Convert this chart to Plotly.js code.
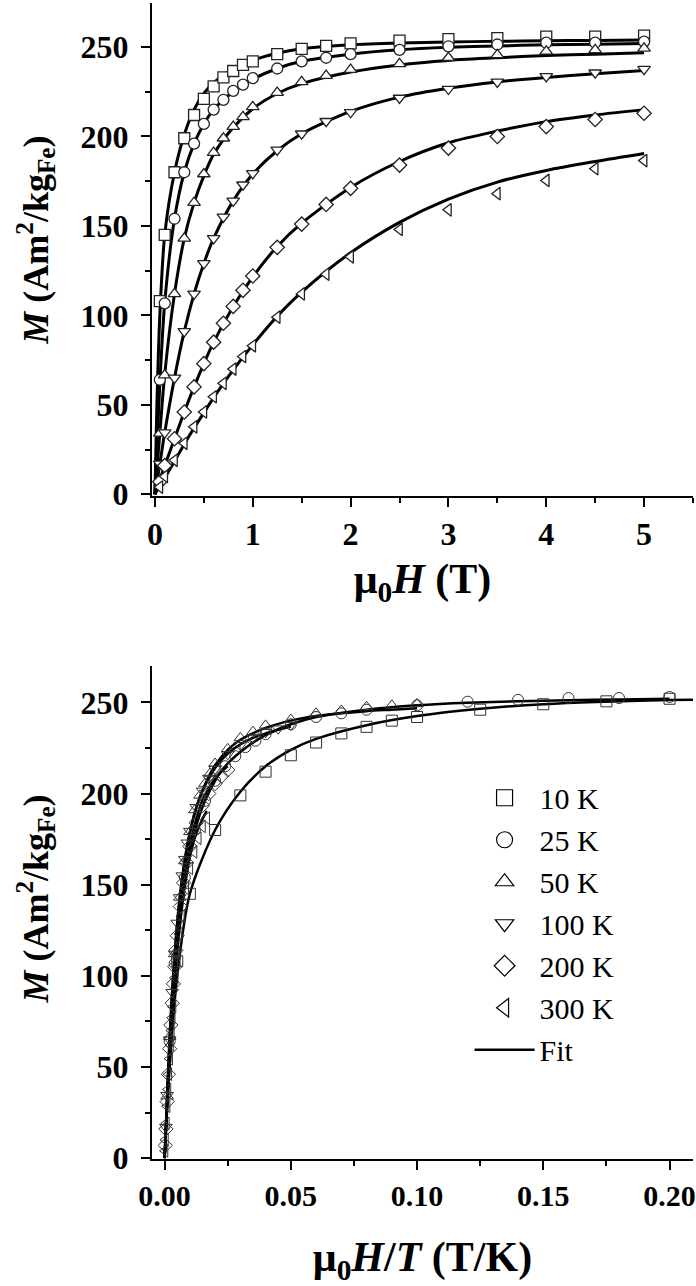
<!DOCTYPE html>
<html>
<head>
<meta charset="utf-8">
<script src="https://cdn.plot.ly/plotly-3.0.1.min.js"></script>
<style>
  body { margin: 0; background: #fff; }
  #plotArea { width: 696px; height: 1286px; }
</style>
</head>
<body>
<div id="plotArea"></div>
<script>
// temperatures (K) and labels
var temps = [10, 25, 50, 100, 200, 300];
var labels = ["10 K", "25 K", "50 K", "100 K", "200 K", "300 K"];

// applied field points (T)
var field = [0.05, 0.1, 0.2, 0.3, 0.4, 0.5, 0.6, 0.7, 0.8, 0.9, 1.0, 1.25, 1.5, 1.75, 2.0, 2.5, 3, 3.5, 4, 4.5, 5];

// measured M (Am2/kgFe), one array per temperature
var m10K  = [108, 145, 180, 199, 212, 221, 228, 233, 236.6, 240, 242, 246, 249, 250.6, 252, 253.6, 254.4, 255, 255.8, 255.8, 256.4];
var m25K  = [64, 106.7, 154, 180, 196, 207, 215, 220.5, 225.5, 229, 232.6, 238, 242, 244, 246, 248.4, 250.4, 251.4, 252.4, 252.4, 253];
var m50K  = [34, 66.6, 112, 143, 163, 179, 191, 199, 205.5, 211, 216.5, 224.5, 230.5, 234, 237.4, 240.6, 244, 245.6, 247.6, 248.4, 249.2];
var m100K = [17, 34.5, 65, 91, 112, 129, 143, 155, 164, 173, 179.4, 192.5, 201.5, 208.5, 213.5, 221.5, 226.5, 230.5, 233.6, 235.6, 237.6];
var m200K = [7, 16, 31, 46, 60, 73, 85, 95.6, 105, 114, 122, 138, 151, 162, 171, 184, 193.5, 200, 205.5, 209.5, 213];
var m300K = [4, 10, 19, 28.5, 37.7, 46, 54.5, 62, 70, 77, 83, 99, 112, 123, 132.7, 148, 159, 168, 175.4, 182, 186.5];

// fit curves
var fitField = [0, 0.02, 0.05, 0.1, 0.2, 0.3, 0.4, 0.5, 0.6, 0.8, 1, 1.25, 1.5, 2, 2.5, 3, 3.5, 4, 4.5, 5];
var fit10K  = [0, 50, 100, 145, 180, 201, 215, 224, 230, 237.5, 242.5, 246.5, 249, 251.3, 252.3, 252.8, 253.2, 253.5, 253.7, 253.9];
var fit25K  = [0, 25, 62, 107, 154, 180, 196, 207, 215, 225, 232, 238, 242, 246, 248.4, 249.8, 250.6, 251.2, 251.6, 252];
var fit50K  = [0, 14, 34, 67, 112, 143, 163, 178, 190, 205, 215.5, 224, 229.5, 236, 240, 242.5, 244, 245.2, 246, 246.8];
var fit100K = [0, 7, 17, 34.5, 65, 91, 112, 129, 143, 164, 179, 192, 201.5, 214, 222, 227, 230.5, 233, 235, 236.8];
var fit200K = [0, 3, 8, 16, 31, 46, 60, 73, 85, 105, 121.5, 138.5, 151.5, 171.5, 186, 196.5, 203, 208.3, 212, 215];
var fit300K = [0, 2, 4.5, 9, 18.5, 28, 37, 45.5, 54, 69.5, 83.5, 99.5, 113, 135, 152, 165, 174.5, 181, 186, 190.5];

var measured = [m10K, m25K, m50K, m100K, m200K, m300K];
var fits = [fit10K, fit25K, fit50K, fit100K, fit200K, fit300K];
var symbols = ["square", "circle", "triangle-up", "triangle-down", "diamond", "triangle-left"];

var serif = "Liberation Serif, Times New Roman, serif";
var traces = [];

// top panel: M vs field
fits.forEach(function(f) {
    traces.push({
        x: fitField, y: f, xaxis: "x", yaxis: "y",
        mode: "lines", line: {color: "#000", width: 3, shape: "spline", smoothing: 0.8},
        showlegend: false, hoverinfo: "skip"
    });
});
measured.forEach(function(m, i) {
    traces.push({
        x: field, y: m, xaxis: "x", yaxis: "y",
        mode: "markers",
        marker: {symbol: symbols[i], size: 11, color: "#fff", line: {color: "#222", width: 1.3}},
        showlegend: false
    });
});

// bottom panel: M vs field / T
fits.forEach(function(f, i) {
    traces.push({
        x: fitField.map(h => h / temps[i]), y: f, xaxis: "x2", yaxis: "y2",
        mode: "lines", line: {color: "#000", width: 2.5, shape: "spline", smoothing: 0.8},
        showlegend: false, hoverinfo: "skip"
    });
});
measured.forEach(function(m, i) {
    traces.push({
        x: field.map(h => h / temps[i]), y: m, xaxis: "x2", yaxis: "y2",
        mode: "markers", showlegend: false,
        marker: {symbol: symbols[i] + "-open", size: 11, color: "#333", line: {width: 1}}
    });
});

// legend entries (bigger symbols than the data marks, as in the figure)
labels.forEach(function(lab, i) {
    traces.push({
        x: [null], y: [null], xaxis: "x2", yaxis: "y2", mode: "markers", name: lab,
        legendrank: i + 1, showlegend: true,
        marker: {symbol: symbols[i] + "-open", size: 16, color: "#000", line: {width: 1.2}}
    });
});
traces.push({
    x: [null], y: [null], xaxis: "x2", yaxis: "y2", mode: "lines", name: "Fit",
    legendrank: 7, showlegend: true,
    line: {color: "#000", width: 2.5}
});

var tickFont = {family: serif, size: 32, color: "#000", weight: "bold"};
var titleFont = {family: serif, size: 36, color: "#000", weight: "bold"};
var xTitleFont = {family: serif, size: 42, color: "#000", weight: "bold"};

function mainAxis(extra) {
    var a = {
        showline: true, linecolor: "#000", linewidth: 2, mirror: false,
        ticks: "outside", ticklen: 9, tickwidth: 2, tickcolor: "#000",
        showgrid: false, zeroline: false, tickfont: tickFont, fixedrange: true,
        ticklabeloverflow: "allow"
    };
    return Object.assign(a, extra);
}
function mirrorAxis(extra) {
    var a = {
        showline: true, linecolor: "#000", linewidth: 2,
        ticks: "inside", ticklen: 7, tickwidth: 2, tickcolor: "#000",
        showticklabels: false, showgrid: false, zeroline: false, fixedrange: true
    };
    return Object.assign(a, extra);
}

var topX = [-0.03, 5.5], topY = [-1, 274.6];
var botX = [-0.005, 0.2093], botY = [-0.5, 270];
var yTitle = "<i>M</i> (Am<sup>2</sup>/kg<sub>Fe</sub>)";

var layout = {
    width: 696, height: 1286,
    margin: {l: 152, r: 3, t: 3, b: 127},
    paper_bgcolor: "#fff", plot_bgcolor: "#fff",
    showlegend: true,
    legend: {
        x: 0.587, y: 0.335, xanchor: "left", yanchor: "top",
        font: {family: serif, size: 30, color: "#000"},
        bgcolor: "rgba(0,0,0,0)", itemwidth: 60, tracegroupgap: 0
    },
    annotations: [
        {text: yTitle, font: titleFont, textangle: -90, showarrow: false,
         xref: "paper", yref: "paper", x: -0.215, y: 0.795, xanchor: "center", yanchor: "middle"},
        {text: yTitle, font: titleFont, textangle: -90, showarrow: false,
         xref: "paper", yref: "paper", x: -0.215, y: 0.225, xanchor: "center", yanchor: "middle"}
    ],
    xaxis: mainAxis({
        domain: [0, 1], anchor: "y", range: topX, tick0: 0, dtick: 1,
        minor: {dtick: 0.5, ticklen: 5, tickwidth: 2, ticks: "outside", tickcolor: "#000"},
        title: {text: "μ<sub>0</sub><i>H</i> (T)", font: xTitleFont, standoff: 12}
    }),
    yaxis: mainAxis({
        domain: [0.5735, 1], anchor: "x", range: topY, tick0: 0, dtick: 50, ticklabelstandoff: 6,
        minor: {dtick: 25, ticklen: 5, tickwidth: 2, ticks: "outside", tickcolor: "#000"}
    }),
    xaxis3: mirrorAxis({overlaying: "x", anchor: "y", side: "top", range: topX, tick0: 0, dtick: 0.5}),
    yaxis3: mirrorAxis({overlaying: "y", anchor: "x", side: "right", range: topY, tick0: 0, dtick: 25}),
    xaxis2: mainAxis({
        domain: [0, 1], anchor: "y2", range: botX, tick0: 0, dtick: 0.05, tickformat: ".2f",
        tickfont: {family: serif, size: 30, color: "#000", weight: "bold"},
        minor: {dtick: 0.025, ticklen: 5, tickwidth: 2, ticks: "outside", tickcolor: "#000"},
        title: {text: "μ<sub>0</sub><i>H</i>/<i>T</i> (T/K)", font: xTitleFont, standoff: 40}
    }),
    yaxis2: mainAxis({
        domain: [0, 0.4265], anchor: "x2", range: botY, tick0: 0, dtick: 50, ticklabelstandoff: 6,
        minor: {dtick: 25, ticklen: 5, tickwidth: 2, ticks: "outside", tickcolor: "#000"}
    }),
    xaxis4: mirrorAxis({overlaying: "x2", anchor: "y2", side: "top", range: botX, tick0: 0, dtick: 0.025}),
    yaxis4: mirrorAxis({overlaying: "y2", anchor: "x2", side: "right", range: botY, tick0: 0, dtick: 25})
};

Plotly.newPlot("plotArea", traces, layout, {staticPlot: true});
</script>
</body>
</html>
